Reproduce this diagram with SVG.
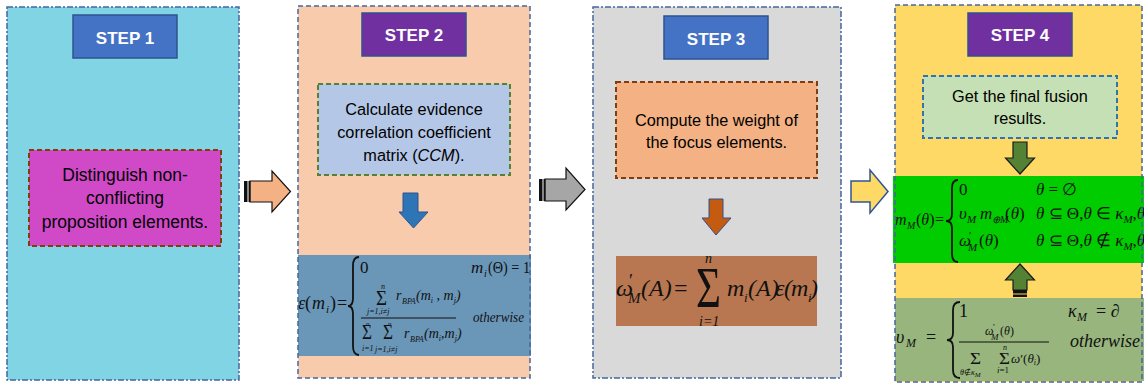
<svg xmlns="http://www.w3.org/2000/svg" width="1144" height="384" viewBox="0 0 1144 384">
<style>
.panelB{fill:none;stroke:#44679e;stroke-width:1.5}
.dd{stroke-dasharray:6 2 2 2}
.ds{stroke-dasharray:5 3}
.lblB{fill:#4472c4;stroke:#2f528f;stroke-width:1.5}
.lblP{fill:#7030a0;stroke:#2f528f;stroke-width:1.5}
.lt{font-family:"Liberation Sans",Arial,sans-serif;font-weight:bold;font-size:17px;fill:#fff;text-anchor:middle}
.bt{font-family:"Liberation Sans",Arial,sans-serif;font-size:16.3px;fill:#000;text-anchor:middle}
.m{font-family:"Liberation Serif","Times New Roman",serif;font-style:italic;fill:#111}
.u{font-family:"Liberation Serif","Times New Roman",serif;fill:#111}
.br{fill:none;stroke:#111;stroke-width:1.8}
.fl{stroke:#111;stroke-width:1.2}
</style>
<rect width="1144" height="384" fill="#fff"/>

<g id="step1">
<rect x="7" y="7" width="232" height="373" fill="#80d4e4"/>
<rect x="7" y="7" width="232" height="373" class="panelB dd"/>
<rect x="73" y="15" width="104" height="43" class="lblB"/>
<text x="125" y="44" class="lt">STEP 1</text>
<rect x="29" y="150" width="192" height="96" fill="#d04ac8" stroke="#843c0c" stroke-width="2" stroke-dasharray="5 3"/>
<text class="bt" style="font-size:17.5px"><tspan x="125" y="181">Distinguish non-</tspan><tspan x="125" y="204">conflicting</tspan><tspan x="125" y="228">proposition elements.</tspan></text>
</g>

<g id="step2">
<rect x="298" y="6" width="232" height="372" fill="#f8cbad"/>
<rect x="362" y="13" width="104" height="43" class="lblP"/>
<text x="414" y="41" class="lt">STEP 2</text>
<rect x="318" y="84" width="192" height="91" fill="#b4c7e7" stroke="#548235" stroke-width="2" stroke-dasharray="5 3"/>
<text class="bt"><tspan x="414" y="115">Calculate evidence</tspan><tspan x="414" y="138">correlation coefficient</tspan><tspan x="414" y="161">matrix (<tspan font-style="italic">CCM</tspan>).</tspan></text>
<path d="M403,193 H418 V212 H428 L413.5,228 L399,212 H403 Z" fill="#2e75b6" stroke="#2f528f" stroke-width="1"/>
<g id="formula-eps">
<rect x="298" y="255" width="233" height="101" fill="#6a96b8"/>
<text class="m" x="298" y="309" font-size="18">ε</text>
<text class="u" x="305" y="309" font-size="18">(</text>
<text class="m" x="312" y="309" font-size="18">m</text>
<text class="m" x="326" y="313" font-size="11">i</text>
<text class="u" x="330" y="309" font-size="18">)</text>
<text class="u" x="337" y="309" font-size="18">=</text>
<path class="br" d="M359,257 Q353,257 353,266 L353,298 Q353,306 348,306 Q353,306 353,314 L353,346 Q353,355 359,355"/>
<text class="u" x="360" y="273" font-size="17">0</text>
<text class="m" x="471" y="273" font-size="17">m</text>
<text class="m" x="484" y="277" font-size="10">i</text>
<text class="u" x="488" y="273" font-size="17" textLength="42" lengthAdjust="spacingAndGlyphs">(Θ) = 1</text>
<text class="m" x="381" y="289" font-size="8">n</text>
<text class="u" x="376" y="305" font-size="20" textLength="11" lengthAdjust="spacingAndGlyphs">Σ</text>
<text class="m" x="367" y="314" font-size="8">j=1,i≠j</text>
<text class="m" x="396" y="300" font-size="14">r</text>
<text class="m" x="402" y="304" font-size="8">BPA</text>
<text class="m" x="416" y="300" font-size="14">(m<tspan font-size="8" dy="3">i</tspan><tspan dy="-3"> , m</tspan><tspan font-size="8" dy="3">j</tspan><tspan dy="-3">)</tspan></text>
<line class="fl" x1="361" y1="318" x2="456" y2="318"/>
<text class="m" x="473" y="322" font-size="15" textLength="51" lengthAdjust="spacingAndGlyphs">otherwise</text>
<text class="m" x="366" y="326" font-size="7">n</text>
<text class="u" x="362" y="339" font-size="20" textLength="10" lengthAdjust="spacingAndGlyphs">Σ</text>
<text class="m" x="362" y="351" font-size="8">i=1</text>
<text class="m" x="388" y="326" font-size="7">n</text>
<text class="u" x="383" y="339" font-size="20" textLength="10" lengthAdjust="spacingAndGlyphs">Σ</text>
<text class="m" x="375" y="352" font-size="8">j=1,i≠j</text>
<text class="m" x="404" y="338" font-size="14">r</text>
<text class="m" x="410" y="342" font-size="8">BPA</text>
<text class="m" x="424" y="338" font-size="14">(m<tspan font-size="8" dy="3">i</tspan><tspan dy="-3">,m</tspan><tspan font-size="8" dy="3">j</tspan><tspan dy="-3">)</tspan></text>
</g>
<rect x="298" y="6" width="232" height="372" class="panelB ds"/>
</g>

<g id="step3">
<rect x="593" y="7" width="248" height="371" fill="#d9d9d9"/>
<rect x="593" y="7" width="248" height="371" class="panelB dd"/>
<rect x="664" y="16" width="104" height="43" class="lblB"/>
<text x="716" y="45" class="lt">STEP 3</text>
<rect x="616" y="82" width="201" height="96" fill="#f4b183" stroke="#843c0c" stroke-width="2" stroke-dasharray="5 3"/>
<text class="bt"><tspan x="716.5" y="126">Compute the weight of</tspan><tspan x="716.5" y="148">the focus elements.</tspan></text>
<path d="M709,199 H723 V218 H731 L716,235 L702,218 H709 Z" fill="#c55a11" stroke="#2f528f" stroke-width="1"/>
<g id="formula-omega">
<rect x="616" y="256" width="201" height="70" fill="#b87750"/>
<text class="m" x="616" y="296" font-size="24">ω</text>
<text class="u" x="629" y="287" font-size="18">′</text>
<text class="m" x="628" y="303" font-size="15">M</text>
<text class="m" x="641" y="296" font-size="24">(A)</text>
<text class="u" x="674" y="296" font-size="24">=</text>
<text class="m" x="705" y="263" font-size="14">n</text>
<text class="u" x="696" y="307" font-size="58" textLength="25" lengthAdjust="spacingAndGlyphs">Σ</text>
<text class="m" x="699" y="326" font-size="14">i=1</text>
<text class="m" x="727" y="296" font-size="24">m</text>
<text class="m" x="744" y="302" font-size="13">i</text>
<text class="m" x="748" y="296" font-size="24">(A)</text>
<text class="m" x="775" y="296" font-size="24">ε</text>
<text class="m" x="784" y="296" font-size="24">(</text>
<text class="m" x="791" y="296" font-size="24">m</text>
<text class="m" x="808" y="302" font-size="13">i</text>
<text class="m" x="810" y="296" font-size="24">)</text>
</g>
</g>

<g id="step4">
<rect x="895" y="5" width="247" height="377" fill="#ffd966"/>
<rect x="968" y="13" width="104" height="43" class="lblP"/>
<text x="1020" y="41" class="lt">STEP 4</text>
<rect x="923" y="76" width="194" height="62" fill="#c5e0b4" stroke="#2e75b6" stroke-width="2" stroke-dasharray="5 3"/>
<text class="bt"><tspan x="1020" y="102">Get the final fusion</tspan><tspan x="1020" y="124">results.</tspan></text>
<path d="M1013,142 H1027 V158 H1034.5 L1020,174 L1005.5,158 H1013 Z" fill="#548235" stroke="#1a1a1a" stroke-width="1.2"/>
<g id="formula-mM">
<rect x="893" y="176" width="251" height="87" fill="#00cc00"/>
<text class="m" x="895" y="225" font-size="16">m</text>
<text class="m" x="907" y="229" font-size="10">M</text>
<text class="u" x="916" y="225" font-size="16">(<tspan font-style="italic">θ</tspan>)</text>
<text class="u" x="935" y="225" font-size="16">=</text>
<path class="br" d="M958,180 Q952,180 952,188 L952,214 Q952,221 946,221 Q952,221 952,228 L952,254 Q952,262 958,262"/>
<text class="u" x="959" y="195" font-size="17">0</text>
<text class="m" x="1036" y="195" font-size="17">θ <tspan font-style="normal">= ∅</tspan></text>
<text class="m" x="959" y="219" font-size="17">υ</text>
<text class="m" x="967" y="223" font-size="11">M</text>
<text class="m" x="980" y="219" font-size="17">m</text>
<text class="m" x="992" y="223" font-size="10">⊕M</text>
<text class="u" x="1005" y="219" font-size="17">(<tspan font-style="italic">θ</tspan>)</text>
<text class="m" x="1036" y="219" font-size="17">θ <tspan font-style="normal">⊆ Θ,</tspan>θ <tspan font-style="normal">∈</tspan> κ<tspan font-size="11" dy="4">M</tspan><tspan dy="-4" font-style="normal">,</tspan>θ <tspan font-style="normal">≠ ∅</tspan></text>
<text class="m" x="959" y="246" font-size="17">ω</text>
<text class="u" x="969" y="239" font-size="11">′</text>
<text class="m" x="968" y="251" font-size="11">M</text>
<text class="u" x="979" y="246" font-size="17">(<tspan font-style="italic">θ</tspan>)</text>
<text class="m" x="1036" y="246" font-size="17">θ <tspan font-style="normal">⊆ Θ,</tspan>θ <tspan font-style="normal">∉</tspan> κ<tspan font-size="11" dy="4">M</tspan><tspan dy="-4" font-style="normal">,</tspan>θ <tspan font-style="normal">≠ ∅</tspan></text>
</g>
<path d="M1020,264 L1034.5,280 H1027 V290 H1013 V280 H1005.5 Z" fill="#548235" stroke="#1a1a1a" stroke-width="1.2"/>
<rect x="1013" y="290" width="14" height="3.5" fill="#111"/>
<rect x="1013" y="294.5" width="14" height="2.5" fill="#111"/>
<g id="formula-vM">
<rect x="895" y="298" width="249" height="83" fill="#97b57d"/>
<text class="m" x="896" y="343" font-size="18">υ</text>
<text class="m" x="906" y="347" font-size="12">M</text>
<text class="u" x="926" y="343" font-size="18">=</text>
<path class="br" d="M960,302 Q953,302 953,310 L953,333 Q953,340 947,340 Q953,340 953,347 L953,370 Q953,378 960,378"/>
<text class="u" x="959" y="317" font-size="18">1</text>
<text class="m" x="1068" y="317" font-size="18">κ</text>
<text class="m" x="1077" y="321" font-size="12">M</text>
<text class="u" x="1096" y="317" font-size="18">= <tspan font-style="italic">∂</tspan></text>
<text class="m" x="985" y="335" font-size="12">ω</text>
<text class="u" x="993" y="330" font-size="9">′</text>
<text class="m" x="991" y="340" font-size="9">M</text>
<text class="u" x="1000" y="335" font-size="12">(<tspan font-style="italic">θ</tspan>)</text>
<line class="fl" x1="959" y1="342" x2="1049" y2="342"/>
<text class="u" x="970" y="364" font-size="16" textLength="11" lengthAdjust="spacingAndGlyphs">Σ</text>
<text class="m" x="960" y="375" font-size="8">θ<tspan font-style="normal">∉</tspan>κ<tspan font-size="7" dy="2">M</tspan></text>
<text class="m" x="1003" y="350" font-size="8">n</text>
<text class="u" x="999" y="364" font-size="16" textLength="11" lengthAdjust="spacingAndGlyphs">Σ</text>
<text class="m" x="997" y="373" font-size="9">i<tspan font-style="normal">=1</tspan></text>
<text class="m" x="1011" y="363" font-size="13">ω<tspan font-style="normal">′(</tspan>θ<tspan font-size="8" dy="2">i</tspan><tspan dy="-2" font-style="normal">)</tspan></text>
<text class="m" x="1070" y="347" font-size="18">otherwise</text>
</g>
<rect x="895" y="5" width="247" height="377" class="panelB ds"/>
</g>

<g id="connectors">
<g id="arrow-1-2">
<path d="M250,181 H272 V171 L290.5,191.5 L272,212 V202 H250 Z" fill="#f4b183" stroke="#111" stroke-width="1.2"/>
<rect x="244" y="181" width="3.5" height="21" fill="#111"/>
<rect x="248.5" y="181" width="1.8" height="21" fill="#111"/>
</g>
<g id="arrow-2-3">
<path d="M545,179 H566 V168 L585,189.5 L566,210 V201 H545 Z" fill="#a6a6a6" stroke="#111" stroke-width="1.2"/>
<rect x="539" y="179" width="3.5" height="22" fill="#111"/>
<rect x="543.5" y="179" width="1.8" height="22" fill="#111"/>
</g>
<g id="arrow-3-4">
<path d="M851,181 H870 V170 L888,191.5 L870,213 V202 H851 Z" fill="#ffd966" stroke="#2f5597" stroke-width="1.5"/>
</g>
</g>
</svg>
